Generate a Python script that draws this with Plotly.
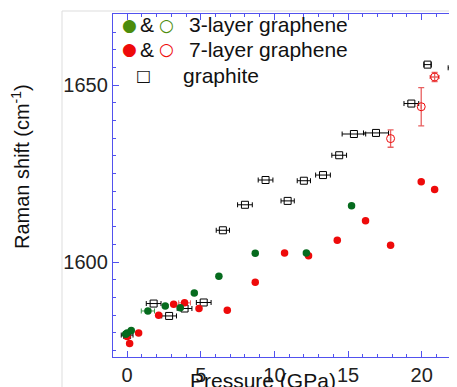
import plotly.graph_objects as go

# ---------------- data ----------------
graphite_p = [0.0, 1.8, 2.85, 3.9, 5.2, 6.5, 8.0, 9.4, 10.9, 12.0, 13.3, 14.4, 15.4, 16.9, 19.3, 20.4, 22.2]
graphite_w = [1579.4, 1588.3, 1584.8, 1586.9, 1588.6, 1609.0, 1616.2, 1623.2, 1617.3, 1623.0,
              1624.6, 1630.2, 1636.2, 1636.5, 1644.8, 1655.8, 1654.9]
graphite_perr = [0.4, 0.5, 0.5, 0.5, 0.5, 0.45, 0.5, 0.5, 0.45, 0.45, 0.5, 0.5, 0.8, 0.85, 0.5, 0.25, 0.4]

g3_p = [-0.1, 0.0, 0.28, 1.41, 2.59, 3.61, 4.56, 6.23, 8.7, 12.17, 15.24]
g3_w = [1579.6, 1580.0, 1580.7, 1586.2, 1587.6, 1587.1, 1591.3, 1596.0, 1602.5, 1602.6, 1615.9]
g3_perr = [0, 0, 0, 0.45, 0, 0, 0, 0, 0, 0, 0]

g7_p = [0.0, 0.17, 0.78, 2.14, 3.16, 3.9, 4.88, 6.8, 8.7, 10.69, 12.32, 14.27, 16.19, 17.89, 19.97, 20.88]
g7_w = [1579.0, 1577.0, 1580.0, 1585.0, 1588.1, 1588.5, 1586.9, 1586.4, 1594.3, 1602.6,
        1601.8, 1606.2, 1611.7, 1604.8, 1622.7, 1620.5]
g7_perr = [0, 0, 0, 0, 0, 0.4, 0, 0, 0, 0, 0, 0, 0, 0, 0, 0]

g7o_p = [17.89, 19.97, 20.88]
g7o_w = [1634.9, 1643.9, 1652.3]
g7o_werr = [2.45, 5.4, 1.3]
g7o_perr = [0, 0, 0.3]

legend_labels = ["3-layer graphene", "7-layer graphene", "graphite"]

GREEN = "#066b1e"
LGREEN = "#4c8c0c"
RED = "#ee0a0a"
ERR_RED = "#e86060"
BLUE = "#5252ee"
FONT = "Liberation Sans, Arial, Helvetica, sans-serif"

# page body has an 8px default margin; window pixel -> figure pixel offset
OFF = 8
L, T, R_EDGE, B_EDGE = 113 - OFF, 14 - OFF, 457 - OFF, 357 - OFF
W, H = 457 - OFF, 387 - OFF
PW, PH = R_EDGE - L, B_EDGE - T

fig = go.Figure()

fig.add_trace(go.Scatter(
    x=graphite_p, y=graphite_w, mode="markers",
    marker=dict(symbol="square-open", size=7, color="black", line=dict(width=1)),
    error_x=dict(type="data", array=graphite_perr, color="black", thickness=1, width=2.5),
    showlegend=False))

fig.add_trace(go.Scatter(
    x=g7o_p, y=g7o_w, mode="markers",
    marker=dict(symbol="circle-open", size=8, color=RED, line=dict(width=1)),
    error_y=dict(type="data", array=g7o_werr, color=ERR_RED, thickness=1.3, width=3),
    error_x=dict(type="data", array=g7o_perr, color=ERR_RED, thickness=1.3, width=2),
    showlegend=False))

fig.add_trace(go.Scatter(
    x=g7_p, y=g7_w, mode="markers",
    marker=dict(symbol="circle", size=7.5, color=RED),
    error_x=dict(type="data", array=g7_perr, color=ERR_RED, thickness=1, width=2.5),
    showlegend=False))

fig.add_trace(go.Scatter(
    x=g3_p, y=g3_w, mode="markers",
    marker=dict(symbol="circle", size=7.5, color=GREEN),
    error_x=dict(type="data", array=g3_perr, color="#3a9a4a", thickness=1, width=2.5),
    showlegend=False))

axis_common = dict(
    showline=True, linecolor=BLUE, linewidth=1.3, mirror="allticks",
    ticks="inside", tickcolor=BLUE, ticklen=6, tickwidth=1.3,
    showgrid=False, zeroline=False,
    tickfont=dict(family=FONT, size=20, color="#222"),
)

fig.update_xaxes(range=[-0.96, 22.4], dtick=5, tick0=0,
                 minor=dict(dtick=1, ticks="inside", ticklen=3, tickcolor=BLUE, tickwidth=1.2),
                 **axis_common)
fig.update_yaxes(range=[1573.2, 1670.1], dtick=50, tick0=1600,
                 minor=dict(dtick=5, ticks="inside", ticklen=3, tickcolor=BLUE, tickwidth=1.2),
                 **axis_common)


def px(xp):
    return (xp - 113) / PW


def py(yp):
    return (357 - yp) / PH


ann = []
# axis titles
ann.append(dict(text="Pressure (GPa)", xref="paper", yref="paper", x=px(263), y=py(380),
                showarrow=False, font=dict(family=FONT, size=21, color="#111"),
                xanchor="center", yanchor="middle"))
ann.append(dict(text="Raman shift (cm<sup>-1</sup>)", xref="paper", yref="paper", x=px(21),
                y=py(167), textangle=-90, showarrow=False,
                font=dict(family=FONT, size=20, color="#111"), xanchor="center", yanchor="middle"))

# legend (text-based)
rows_y = [25, 49, 75]
for yy, fc in zip(rows_y[:2], [LGREEN, RED]):
    ann.append(dict(text="●", x=px(129), y=py(yy), xref="paper", yref="paper", showarrow=False,
                    font=dict(size=17, color=fc, family="DejaVu Sans"), xanchor="center", yanchor="middle"))
    ann.append(dict(text="&", x=px(147), y=py(yy), xref="paper", yref="paper", showarrow=False,
                    font=dict(size=21, color="#111", family=FONT), xanchor="center", yanchor="middle"))
    ann.append(dict(text="○", x=px(166), y=py(yy), xref="paper", yref="paper", showarrow=False,
                    font=dict(size=17, color=fc, family="DejaVu Sans"), xanchor="center", yanchor="middle"))
ann.append(dict(text="□", x=px(143), y=py(rows_y[2]), xref="paper", yref="paper", showarrow=False,
                font=dict(size=16, color="#111", family="DejaVu Sans"), xanchor="center", yanchor="middle"))
for lbl, yy, x0 in zip(legend_labels, rows_y, [187, 187, 181]):
    ann.append(dict(text=lbl, x=px(x0), y=py(yy), xref="paper", yref="paper", showarrow=False,
                    font=dict(size=21, color="#111", family=FONT), xanchor="left", yanchor="middle"))

shapes = [
    dict(type="line", xref="paper", yref="paper", x0=px(62), x1=px(62), y0=py(11), y1=py(395),
         line=dict(color="#dddddd", width=1)),
    dict(type="line", xref="paper", yref="paper", x0=px(62), x1=px(460), y0=py(11), y1=py(11),
         line=dict(color="#dddddd", width=1)),
]

fig.update_layout(
    width=W, height=H,
    margin=dict(l=L, r=W - R_EDGE, t=T, b=H - B_EDGE),
    paper_bgcolor="white", plot_bgcolor="white",
    annotations=ann, shapes=shapes,
    font=dict(family=FONT),
)

fig.write_html("out.html")
